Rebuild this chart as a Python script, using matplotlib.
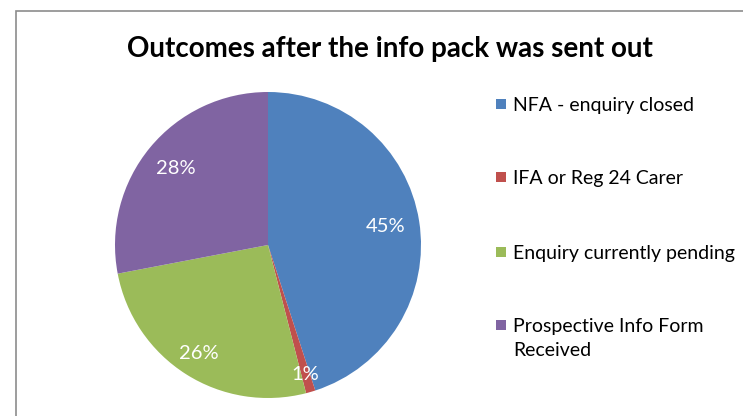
import matplotlib
matplotlib.use("Agg")
import matplotlib.pyplot as plt
import numpy as np
from matplotlib.patches import Rectangle

title = "Outcomes after the info pack was sent out"
categories = ["NFA - enquiry closed", "IFA or Reg 24 Carer",
              "Enquiry currently pending", "Prospective Info Form\nReceived"]
shares = [45, 1, 26, 28]
colors = ["#4F81BD", "#C0504D", "#9BBB59", "#8064A2"]
label_radius = [0.78, 0.88, 0.84, 0.78]

W, H = 743, 416
fig = plt.figure(figsize=(W / 100, H / 100), dpi=100)
plt.rcParams["font.family"] = ["Lato", "DejaVu Sans"]

# chart frame (left and top edges visible)
fig.add_artist(Rectangle((16 / W, -0.05), 1.1, (H - 11) / H + 0.05,
                         transform=fig.transFigure, fill=False,
                         edgecolor="#8c8c8c", linewidth=1.2))

cx, cy, R = 268, 416 - 245, 153
ax = fig.add_axes([(cx - R) / W, (cy - R) / H, 2 * R / W, 2 * R / H])
wedges, _ = ax.pie(shares, colors=colors, startangle=90, counterclock=False,
                   radius=1.0, wedgeprops=dict(linewidth=0))
ax.set_xlim(-1, 1)
ax.set_ylim(-1, 1)
ax.set_aspect("equal")

for w, v, r in zip(wedges, shares, label_radius):
    ang = np.deg2rad((w.theta1 + w.theta2) / 2)
    ax.text(r * np.cos(ang), r * np.sin(ang), f"{v}%", color="white",
            ha="center", va="center", fontsize=14.5)

fig.text(390 / W, 1 - 49 / H, title, ha="center", va="center",
         fontsize=20, fontweight="bold")

leg_y = [104, 177, 252, 325]
for c, name, y in zip(colors, categories, leg_y):
    fig.add_artist(Rectangle((496 / W, 1 - (y + 5) / H), 10 / W, 10 / H,
                             transform=fig.transFigure, facecolor=c,
                             edgecolor="none"))
    fig.text(513 / W, 1 - (y - 7) / H, name, ha="left", va="top",
             fontsize=14, linespacing=1.5)

fig.savefig("out.png", dpi=100)
